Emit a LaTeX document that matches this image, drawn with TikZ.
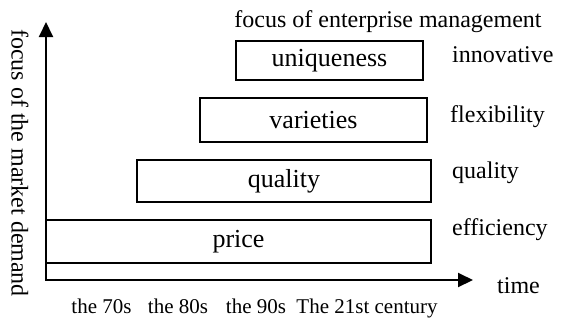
\documentclass[tikz,border=0pt]{standalone}
\usepackage{fontspec}
\setmainfont{Liberation Serif}
\usetikzlibrary{arrows.meta}
\tikzset{
  box/.style={draw, line width=1.5pt, inner sep=0pt, font=\fontsize{26}{28}\selectfont},
  outer/.style={inner sep=0pt, font=\fontsize{24}{26}\selectfont},
  era/.style={inner sep=0pt, anchor=base, font=\fontsize{21}{24}\selectfont},
  axis/.style={line width=2pt, {Triangle[length=15pt,width=14pt]}-{Triangle[length=15pt,width=14pt]}}
}
\begin{document}
\begin{tikzpicture}[x=1pt,y=-1pt]
\useasboundingbox (0,0) rectangle (564,322);
\coordinate (ytip) at (46,22);
\coordinate (O) at (46,280);
\coordinate (xtip) at (473,280);
\draw[axis, line join=miter] (ytip) -- (O) -- (xtip);
\node[box, minimum width=385, minimum height=43] (price) at (238.5,241.5) {price};
\node[box, minimum width=294, minimum height=42] (quality) at (284,181) {quality};
\node[box, minimum width=227, minimum height=44] (varieties) at (313.5,120) {varieties};
\node[box, minimum width=187, minimum height=39] (uniq) at (329.5,60.5) {uniqueness};
\node[outer, anchor=base] (mgmt) at (388,27) {focus of enterprise management};
\node[outer, anchor=base west] (innov) at (452,62) {innovative};
\node[outer, anchor=base west] (flex) at (450,122) {flexibility};
\node[outer, anchor=base west] (qual2) at (452,178) {quality};
\node[outer, anchor=base west] (eff) at (452,235) {efficiency};
\node[outer, anchor=base west] (time) at (497,293) {time};
\node[outer, rotate=-90] (ylab) at (20,163) {focus of the market demand};
\node[era] (e70) at (101.5,313) {the 70s};
\node[era] (e80) at (178,313) {the 80s};
\node[era] (e90) at (256,313) {the 90s};
\node[era] (e21) at (367,313) {The 21st century};
\end{tikzpicture}
\end{document}
